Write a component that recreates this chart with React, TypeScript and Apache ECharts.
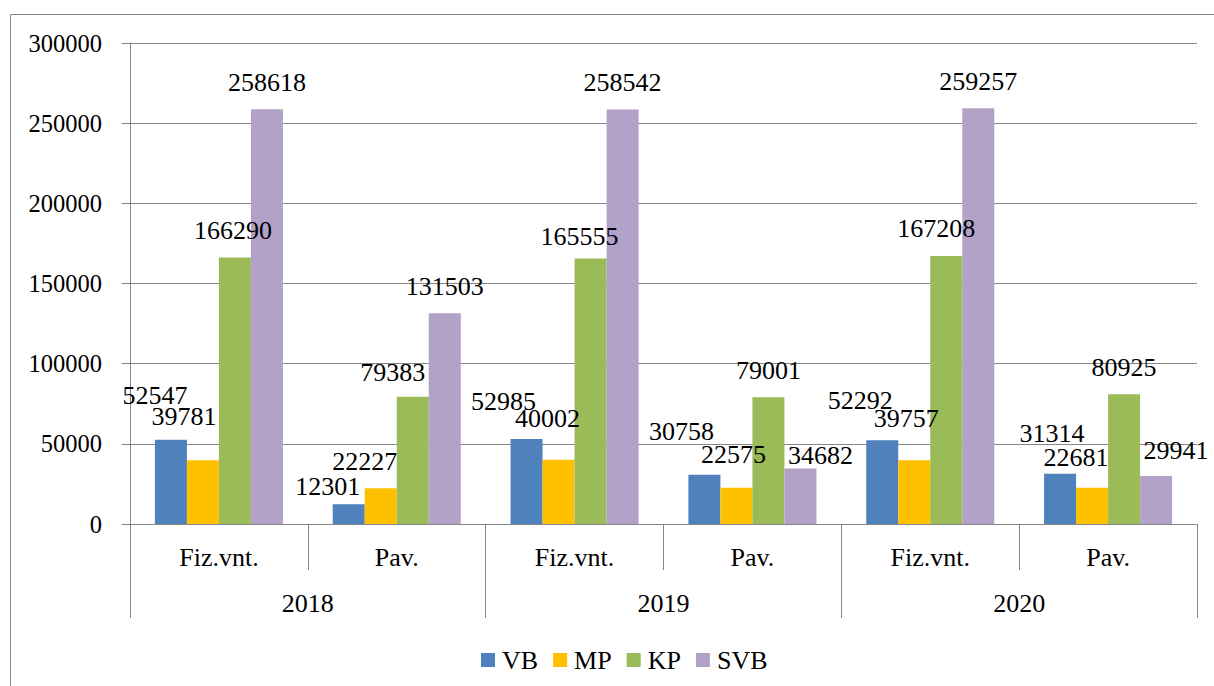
import React, { useEffect, useRef } from "react";
import * as echarts from "echarts";

const subCategories = ["Fiz.vnt.", "Pav.", "Fiz.vnt.", "Pav.", "Fiz.vnt.", "Pav."];
const years = ["2018", "2019", "2020"];
const seriesNames = ["VB", "MP", "KP", "SVB"];
const vbValues = [52547, 12301, 52985, 30758, 52292, 31314];
const mpValues = [39781, 22227, 40002, 22575, 39757, 22681];
const kpValues = [166290, 79383, 165555, 79001, 167208, 80925];
const svbValues = [258618, 131503, 258542, 34682, 259257, 29941];
const yTicks = { min: 0, max: 300000, interval: 50000 };

const colors = ["#4F81BD", "#FFC000", "#9BBB59", "#B2A2C7"];
// label nudges (styling only) to mimic the reference's label placement
const labelNudges: number[][][] = [
  [[-16, -17], [-21, 9], [-23, -11], [-23, -16], [-22, -13], [-8, -13]],
  [[-19, -17], [-16, 0], [-11, -14], [-3, -6], [-8, -15], [-16, -3]],
  [[-2, 0], [-20, 3], [-11, 5], [0, 0], [-10, 0], [0, 0]],
  [[0, 0], [0, 0], [0, 0], [20, 14], [0, 0], [20, 2]],
];

const FONT = "'Liberation Serif', 'Times New Roman', serif";
const GRAY = "#868686";

export default function App() {
  const ref = useRef<HTMLDivElement>(null);
  useEffect(() => {
    if (!ref.current) return;
    const chart = echarts.init(ref.current, undefined, { renderer: "svg" });
    const allValues = [vbValues, mpValues, kpValues, svbValues];
    const series = seriesNames.map((name, si) => ({
      name,
      type: "bar",
      xAxisIndex: 0,
      yAxisIndex: 0,
      barGap: "0%",
      barCategoryGap: "28%",
      itemStyle: { color: colors[si] },
      label: {
        show: true,
        position: "top",
        distance: 14,
        color: "#000",
        fontFamily: FONT,
        fontSize: 26,
        formatter: "{c}",
      },
      data: allValues[si].map((v, i) => ({
        value: v,
        label: { offset: labelNudges[si][i] },
      })),
    }));
    chart.setOption({
      animation: false,
      backgroundColor: "#fff",
      textStyle: { fontFamily: FONT, color: "#000" },
      grid: { left: 130, right: 17, top: 43, bottom: 162, containLabel: false },
      legend: {
        data: seriesNames,
        left: 476,
        top: 642,
        icon: "rect",
        itemWidth: 14,
        itemHeight: 14,
        itemGap: 15,
        textStyle: { fontFamily: FONT, fontSize: 26, color: "#000", lineHeight: 26, padding: [0, 0, 0, 2] },
      },
      xAxis: [
        {
          type: "category",
          data: subCategories,
          position: "bottom",
          offset: 0,
          axisLine: { show: true, lineStyle: { color: GRAY, width: 1 } },
          axisTick: { show: true, interval: 0, length: 46, lineStyle: { color: GRAY, width: 1 } },
          axisLabel: { interval: 0, margin: 20, fontFamily: FONT, fontSize: 26, color: "#000" },
          splitLine: { show: false },
        },
        {
          type: "category",
          data: years,
          position: "bottom",
          offset: 0,
          axisLine: { show: false },
          axisTick: { show: true, interval: 0, length: 94, lineStyle: { color: GRAY, width: 1 } },
          axisLabel: { interval: 0, margin: 66, fontFamily: FONT, fontSize: 26, color: "#000" },
          splitLine: { show: false },
        },
      ],
      yAxis: {
        type: "value",
        min: yTicks.min,
        max: yTicks.max,
        interval: yTicks.interval,
        axisLine: { show: true, lineStyle: { color: GRAY, width: 1 } },
        axisTick: { show: true, length: 8, lineStyle: { color: GRAY, width: 1 } },
        axisLabel: {
          margin: 28,
          fontFamily: FONT,
          fontSize: 24.5,
          color: "#000",
          formatter: (v: number) => String(v),
        },
        splitLine: { show: true, lineStyle: { color: GRAY, width: 1 } },
      },
      graphic: [
        {
          type: "line",
          shape: { x1: 10.5, y1: 14.5, x2: 1214, y2: 14.5 },
          style: { stroke: GRAY, lineWidth: 1 },
        },
        {
          type: "line",
          shape: { x1: 10.5, y1: 14.5, x2: 10.5, y2: 686 },
          style: { stroke: GRAY, lineWidth: 1 },
        },
      ],
      series,
    });
    return () => chart.dispose();
  }, []);
  return (
    <div
      ref={ref}
      style={{ position: "absolute", left: 0, top: 0, width: 1214, height: 686 }}
    />
  );
}
